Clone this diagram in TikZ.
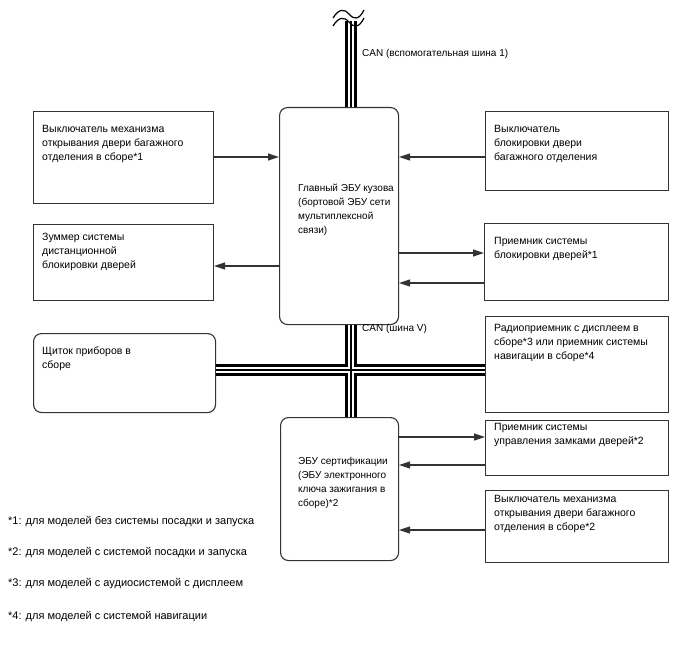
\documentclass[tikz,border=0pt]{standalone}
\usepackage{fontspec}
\setmainfont{Liberation Sans}
\usetikzlibrary{arrows.meta,calc}
\begin{document}
\begin{tikzpicture}[x=1pt,y=-1pt,
  box/.style={draw=black!80, line width=1.1pt, inner sep=0pt, anchor=north west},
  rbox/.style={box, rounded corners=8pt},
  txt/.style={inner sep=0pt, anchor=north west, align=left, font=\fontsize{10.5}{14}\selectfont},
  ctxt/.style={txt, font=\fontsize{10}{14}\selectfont},
  ftxt/.style={txt, anchor=west, font=\fontsize{11}{14}\selectfont},
  arr/.style={draw=black!80, line width=1.2pt, -{Triangle[length=11pt,width=7pt]}},
  busA/.style={line width=12.5pt, black},
  busB/.style={line width=6.5pt, white},
  busC/.style={line width=1.5pt, black}
]
\path[use as bounding box, fill=white] (0,0) rectangle (688,658);

% boxes
\node[box, minimum width=180pt, minimum height=92pt] (b1) at (33,111) {};
\node[box, minimum width=180pt, minimum height=76pt] (b2) at (33,224) {};
\node[rbox, minimum width=182pt, minimum height=79pt] (clus) at (33,333) {};
\node[box, minimum width=183pt, minimum height=79pt] (b4) at (485,111) {};
\node[box, minimum width=184pt, minimum height=77pt] (b5) at (484,223) {};
\node[box, minimum width=183pt, minimum height=96pt] (radio) at (485,316) {};
\node[box, minimum width=183pt, minimum height=55pt] (b7) at (485,420) {};
\node[box, minimum width=183pt, minimum height=72pt] (b8) at (485,490) {};
\node[rbox, minimum width=119pt, minimum height=217pt] (ecu) at (279,107) {};
\node[rbox, minimum width=118pt, minimum height=143pt] (cert) at (280,417) {};

% texts
\node[txt] (t1) at ([shift={(9,14)}]b1.north west) {Выключатель механизма\\открывания двери багажного\\отделения в сборе*1};
\node[txt] (t2) at ([shift={(9,9)}]b2.north west) {Зуммер системы\\дистанционной\\блокировки дверей};
\node[txt] (t3) at ([shift={(9,14)}]clus.north west) {Щиток приборов в\\сборе};
\node[txt] (t4) at ([shift={(9,14)}]b4.north west) {Выключатель\\блокировки двери\\багажного отделения};
\node[txt] (t5) at ([shift={(10,14)}]b5.north west) {Приемник системы\\блокировки дверей*1};
\node[txt] (t6) at ([shift={(9,8)}]radio.north west) {Радиоприемник с дисплеем в\\сборе*3 или приемник системы\\навигации в сборе*4};
\node[txt] (t7) at ([shift={(9,3)}]b7.north west) {Приемник системы\\управления замками дверей*2};
\node[txt] (t8) at ([shift={(9,5)}]b8.north west) {Выключатель механизма\\открывания двери багажного\\отделения в сборе*2};
\node[ctxt] (te) at ([shift={(19,77)}]ecu.north west) {Главный ЭБУ кузова\\(бортовой ЭБУ сети\\мультиплексной\\связи)};
\node[ctxt] (tc) at ([shift={(18,40)}]cert.north west) {ЭБУ сертификации\\(ЭБУ электронного\\ключа зажигания в\\сборе)*2};

\node[ctxt] (can1) at (362,49) {CAN (вспомогательная шина 1)};
\node[ctxt] (can2) at (362,324) {CAN (шина V)};

\node[ftxt] (f1) at (8,522) {*1: для моделей без системы посадки и запуска};
\node[ftxt] (f2) at (8,553) {*2: для моделей с системой посадки и запуска};
\node[ftxt] (f3) at (8,584) {*3: для моделей с аудиосистемой с дисплеем};
\node[ftxt] (f4) at (8,617) {*4: для моделей с системой навигации};

% arrows
\coordinate (y1) at (0,157);
\coordinate (y2) at (0,266);
\coordinate (y3) at (0,253);
\coordinate (y4) at (0,283);
\coordinate (y5) at (0,437);
\coordinate (y6) at (0,465);
\coordinate (y7) at (0,530);
\draw[arr] (b1.east |- y1) -- (ecu.west |- y1);
\draw[arr] (ecu.west |- y2) -- (b2.east |- y2);
\draw[arr] (b4.west |- y1) -- (ecu.east |- y1);
\draw[arr] (ecu.east |- y3) -- (b5.west |- y3);
\draw[arr] (b5.west |- y4) -- (ecu.east |- y4);
\draw[arr] (cert.east |- y5) -- (b7.west |- y5);
\draw[arr] (b7.west |- y6) -- (cert.east |- y6);
\draw[arr] (b8.west |- y7) -- (cert.east |- y7);

% bus
\coordinate (bt) at (351,21);
\coordinate (bx) at (351,0);
\coordinate (hy) at (0,370);
\foreach \s in {busA,busB,busC}{
  \draw[\s] (bt) -- (bx |- ecu.north);
  \draw[\s] (bx |- ecu.south) -- (bx |- cert.north);
  \draw[\s] (clus.east |- hy) -- (radio.west |- hy);
}
% break marks
\draw[line width=1.2pt] (333,18) .. controls (339,8) and (345,9) .. (349,14) .. controls (354,20) and (359,20) .. (364,10);
\draw[line width=1.2pt] (333,26) .. controls (339,16) and (345,17) .. (349,22) .. controls (354,28) and (359,28) .. (364,18);
\end{tikzpicture}
\end{document}
